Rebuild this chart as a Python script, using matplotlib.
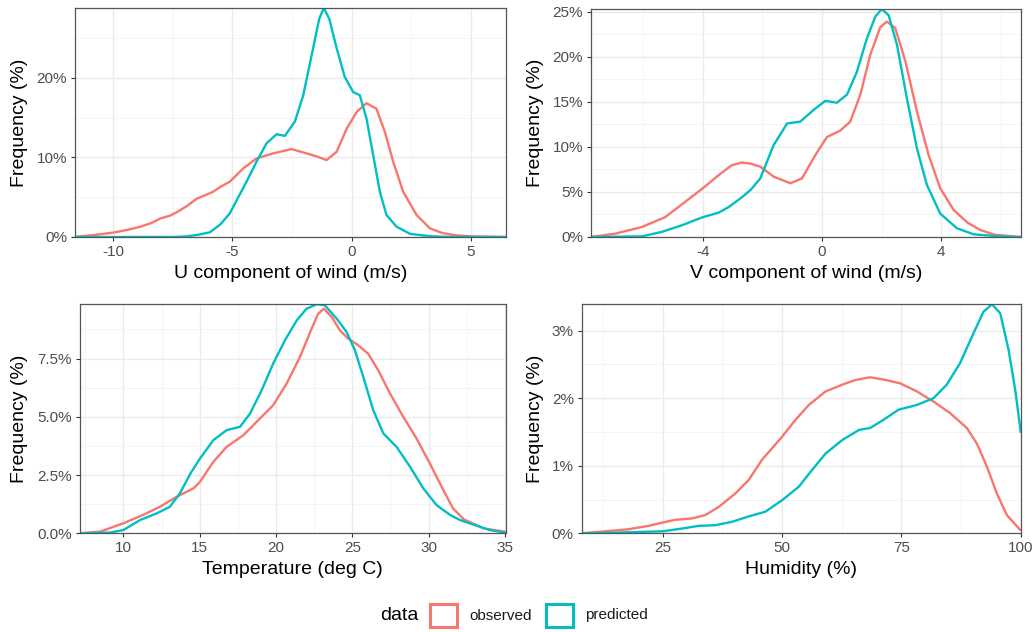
import matplotlib.pyplot as plt
from matplotlib.patches import Rectangle
from matplotlib.ticker import FuncFormatter, MultipleLocator

plt.rcParams['font.family'] = ['Liberation Sans', 'DejaVu Sans']
plt.rcParams['axes.unicode_minus'] = False

RED = '#F8766D'
CYAN = '#00BFC4'

# U component of wind
u_obs_x = [-11.6, -10.8, -10, -9.4, -8.9, -8.4, -8.04, -7.6, -7.34, -6.9, -6.5, -6.1, -5.8, -5.5,
           -5.11, -4.55, -3.99, -3.29, -2.52, -1.89, -1.45, -1.05, -0.63, -0.21, 0.21, 0.62, 1.04,
           1.39, 1.74, 2.16, 2.72, 3.28, 3.8, 4.4, 5.0, 6.46]
u_obs_y = [0.0, 0.25, 0.55, 0.9, 1.26, 1.75, 2.3, 2.7, 3.1, 3.9, 4.8, 5.3, 5.7, 6.3,
           6.94, 8.6, 9.87, 10.5, 11.04, 10.5, 10.1, 9.66, 10.7, 13.6, 15.7, 16.8, 16.1,
           13.2, 9.45, 5.68, 2.76, 1.09, 0.5, 0.2, 0.08, 0.0]
u_pred_x = [-11.6, -7.5, -6.92, -6.4, -5.94, -5.5, -5.11, -4.41, -3.99, -3.57, -3.15, -2.8, -2.38,
            -2.03, -1.68, -1.36, -1.17, -0.94, -0.63, -0.29, 0.06, 0.34, 0.62, 0.90, 1.18, 1.46,
            1.88, 2.44, 3.28, 4.0, 6.46]
u_pred_y = [0.0, 0.0, 0.08, 0.3, 0.6, 1.6, 2.97, 6.94, 9.45, 11.76, 12.9, 12.7, 14.5,
            17.8, 22.8, 27.4, 28.75, 27.4, 23.7, 20.1, 18.2, 17.8, 14.9, 10.3, 5.7, 2.76,
            1.3, 0.4, 0.1, 0.02, 0.0]

# V component of wind
v_obs_x = [-7.75, -6.94, -6.05, -5.26, -4.59, -4.0, -3.47, -3.03, -2.69, -2.4, -2.07, -1.62, -1.06,
           -0.67, -0.22, 0.17, 0.61, 0.95, 1.29, 1.62, 1.96, 2.18, 2.46, 2.80, 3.19, 3.58, 3.97,
           4.42, 4.87, 5.31, 5.8, 6.67]
v_obs_y = [0.0, 0.37, 1.1, 2.2, 3.9, 5.4, 6.85, 7.96, 8.26, 8.15, 7.8, 6.7, 5.96,
           6.5, 9.1, 11.1, 11.8, 12.8, 15.8, 20.2, 23.3, 23.9, 23.2, 19.5, 13.9, 9.1, 5.4,
           3.0, 1.63, 0.78, 0.25, 0.0]
v_pred_x = [-7.75, -6.05, -5.38, -4.7, -4.0, -3.47, -3.14, -2.69, -2.4, -2.07, -1.62, -1.17, -0.73,
            -0.28, 0.11, 0.5, 0.84, 1.17, 1.51, 1.79, 2.01, 2.24, 2.52, 2.85, 3.19, 3.52, 3.97,
            4.53, 5.09, 5.93, 6.67]
v_pred_y = [0.0, 0.07, 0.56, 1.3, 2.2, 2.7, 3.3, 4.4, 5.2, 6.5, 10.2, 12.6, 12.8,
            14.1, 15.1, 14.9, 15.8, 18.3, 22.05, 24.45, 25.3, 24.6, 21.3, 15.4, 9.8, 5.8, 2.6,
            0.97, 0.3, 0.07, 0.0]

# Temperature
t_obs_x = [7.16, 8.47, 10, 11.3, 12.4, 13.5, 14.6, 15.02, 15.9, 16.77, 17.86, 18.74, 19.82, 20.7,
           21.57, 22.34, 22.77, 23.14, 23.65, 24.19, 24.73, 25.39, 26.04, 26.7, 27.47, 28.34,
           29.21, 30.08, 30.96, 31.6, 32.3, 33.6, 35.0]
t_obs_y = [0.0, 0.07, 0.43, 0.79, 1.14, 1.57, 1.93, 2.21, 3.07, 3.71, 4.21, 4.79, 5.5, 6.43,
           7.57, 8.79, 9.43, 9.64, 9.29, 8.71, 8.36, 8.07, 7.71, 7.0, 6.0, 5.0,
           4.07, 3.0, 1.86, 1.07, 0.6, 0.21, 0.07]
t_pred_x = [7.16, 9.1, 10, 11.1, 12.2, 13.05, 13.7, 14.4, 15.02, 15.9, 16.77, 17.64, 18.3, 19.06,
            19.82, 20.59, 21.36, 22.0, 22.67, 23.2, 23.98, 24.63, 25.17, 25.72, 26.37, 27.03,
            27.9, 28.78, 29.65, 30.52, 31.4, 32.05, 33.0, 34.0, 35.0]
t_pred_y = [0.0, 0.03, 0.14, 0.57, 0.86, 1.14, 1.71, 2.57, 3.21, 4.0, 4.43, 4.57, 5.14, 6.14,
            7.29, 8.29, 9.14, 9.64, 9.83, 9.79, 9.21, 8.64, 7.86, 6.71, 5.29, 4.29,
            3.71, 2.86, 1.93, 1.21, 0.79, 0.57, 0.36, 0.14, 0.03]

# Humidity
h_obs_x = [8, 12.2, 17.8, 22.0, 25, 27.6, 31.1, 33.9, 36.7, 40.2, 43.0, 45.8, 50, 52.8, 55.6, 59.1,
           62.6, 65.4, 68.46, 71.7, 74.75, 78.25, 81.73, 85.2, 88.7, 90.8, 92.9, 95.0, 97.1, 99.9]
h_obs_y = [0.0, 0.025, 0.06, 0.11, 0.16, 0.2, 0.22, 0.27, 0.39, 0.59, 0.79, 1.09, 1.43, 1.68, 1.9,
           2.1, 2.2, 2.27, 2.31, 2.27, 2.22, 2.10, 1.95, 1.78, 1.56, 1.33, 0.99, 0.59, 0.27, 0.05]
h_pred_x = [8, 15, 25, 29, 32.5, 36, 39.5, 43, 46.5, 50, 53.5, 56.3, 59.1, 62.6, 66.1, 68.46, 71.25,
            74.4, 78.25, 81.73, 84.5, 87.3, 90.1, 92.2, 93.97, 95.7, 97.45, 98.86, 100]
h_pred_y = [0.0, 0.01, 0.03, 0.07, 0.11, 0.12, 0.17, 0.25, 0.32, 0.49, 0.69, 0.94, 1.18, 1.38, 1.53,
            1.56, 1.68, 1.83, 1.90, 2.0, 2.2, 2.52, 2.96, 3.28, 3.39, 3.26, 2.72, 2.12, 1.5]

W, H = 1035, 632
fig = plt.figure(figsize=(W / 100, H / 100), dpi=100)


def box(l, r, t, b):
    # pixel box -> figure fraction rect
    return [l / W, 1 - b / H, (r - l) / W, (b - t) / H]


panels = [
    dict(rect=box(75, 506, 8, 237), xlim=(-11.6, 6.47), ylim=(0, 28.75), xmaj=5, ymaj=10,
         fmt='{:.0f}%', xlabel='U component of wind (m/s)', obs=(u_obs_x, u_obs_y),
         pred=(u_pred_x, u_pred_y), ylab_x=20, xlab_y=273),
    dict(rect=box(591, 1020.7, 9, 237), xlim=(-7.75, 6.67), ylim=(0, 25.3), xmaj=4, ymaj=5,
         fmt='{:.0f}%', xlabel='V component of wind (m/s)', obs=(v_obs_x, v_obs_y),
         pred=(v_pred_x, v_pred_y), ylab_x=535, xlab_y=273),
    dict(rect=box(80, 505.7, 304.3, 533.3), xlim=(7.16, 35.05), ylim=(0, 9.83), xmaj=5, ymaj=2.5,
         fmt='{:.1f}%', xlabel='Temperature (deg C)', obs=(t_obs_x, t_obs_y),
         pred=(t_pred_x, t_pred_y), ylab_x=20, xlab_y=570),
    dict(rect=box(581.7, 1020.7, 304.3, 533.3), xlim=(8, 100), ylim=(0, 3.39), xmaj=25, ymaj=1,
         fmt='{:.0f}%', xlabel='Humidity (%)', obs=(h_obs_x, h_obs_y),
         pred=(h_pred_x, h_pred_y), ylab_x=535, xlab_y=570),
]

for p in panels:
    ax = fig.add_axes(p['rect'])
    ax.plot(*p['obs'], color=RED, lw=1.7, solid_capstyle='round', solid_joinstyle='round')
    ax.plot(*p['pred'], color=CYAN, lw=1.7, solid_capstyle='round', solid_joinstyle='round')
    ax.set_xlim(*p['xlim'])
    ax.set_ylim(*p['ylim'])
    ax.xaxis.set_major_locator(MultipleLocator(p['xmaj']))
    ax.xaxis.set_minor_locator(MultipleLocator(p['xmaj'] / 2))
    ax.yaxis.set_major_locator(MultipleLocator(p['ymaj']))
    ax.yaxis.set_minor_locator(MultipleLocator(p['ymaj'] / 2))
    ax.yaxis.set_major_formatter(FuncFormatter(lambda v, pos, f=p['fmt']: f.format(v)))
    ax.grid(which='major', color='#EBEBEB', lw=1.0)
    ax.grid(which='minor', color='#F2F2F2', lw=0.6)
    ax.set_axisbelow(True)
    for s in ax.spines.values():
        s.set_color('#555555')
        s.set_linewidth(0.9)
    ax.tick_params(which='major', length=3.2, width=0.8, color='#333333', labelsize=11,
                   labelcolor='#4D4D4D', pad=2.5)
    ax.tick_params(which='minor', length=0)
    ax.set_xlabel(p['xlabel'], fontsize=14, va='center')
    ax.xaxis.set_label_coords((p['rect'][0] + p['rect'][2] / 2), 1 - p['xlab_y'] / H,
                              transform=fig.transFigure)
    ax.set_ylabel('Frequency (%)', fontsize=14, va='center')
    ax.yaxis.set_label_coords(p['ylab_x'] / W, p['rect'][1] + p['rect'][3] / 2,
                              transform=fig.transFigure)

# legend at the bottom
ly = 1 - 615.5 / H
fig.text(380 / W, ly, 'data', fontsize=14, va='center', ha='left')
for x0, c, lab in [(430, RED, 'observed'), (546, CYAN, 'predicted')]:
    fig.add_artist(Rectangle((x0 / W, 1 - 627 / H), 27 / W, 23 / H, transform=fig.transFigure,
                             facecolor='white', edgecolor=c, lw=2.2))
    fig.text((x0 + 39) / W, ly, lab, fontsize=11, va='center', ha='left', color='#1A1A1A')

fig.savefig('out.png', dpi=100)
